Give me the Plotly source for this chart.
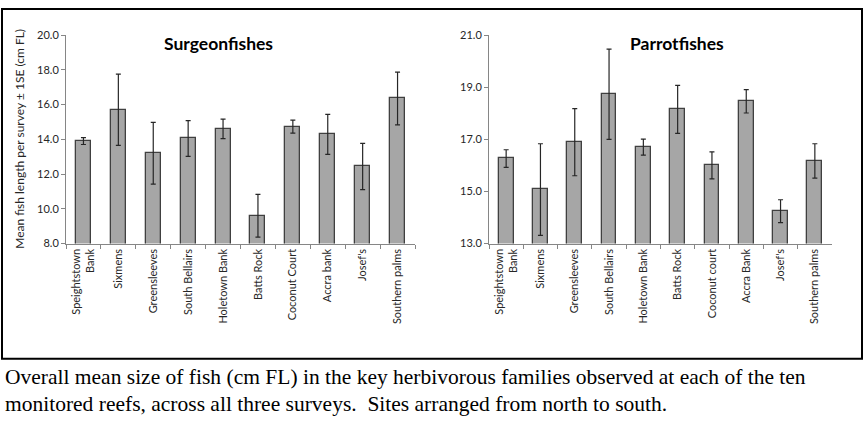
import plotly.graph_objects as go
from plotly.subplots import make_subplots

W, H = 864, 423

# sites, north to south (labels as written on each panel)
sites_surgeon = ["Speightstown<br>Bank", "Sixmens", "Greensleeves", "South Bellairs", "Holetown Bank",
                 "Batts Rock", "Coconut Court", "Accra bank", "Josef's", "Southern palms"]
sites_parrot = ["Speightstown<br>Bank", "Sixmens", "Greensleeves", "South Bellairs", "Holetown Bank",
                "Batts Rock", "Coconut court", "Accra Bank", "Josef's", "Southern palms"]

# mean fish length (cm FL) and 1 SE
surgeon_mean = [13.9, 15.7, 13.2, 14.05, 14.6, 9.6, 14.73, 14.28, 12.43, 16.35]
surgeon_se = [0.2, 2.05, 1.78, 1.03, 0.56, 1.23, 0.37, 1.15, 1.33, 1.52]
parrot_mean = [16.26, 15.07, 16.89, 18.73, 16.70, 18.15, 16.0, 18.46, 14.24, 16.17]
parrot_se = [0.34, 1.76, 1.29, 1.73, 0.31, 0.92, 0.52, 0.45, 0.44, 0.66]

FONT = "Lato"
TXT = "#262626"

def px_x(p):
    return p / W

def px_y(p):
    return 1 - p / H

fig = make_subplots(rows=1, cols=2)

for col, sites, mean, se in [(1, sites_surgeon, surgeon_mean, surgeon_se),
                             (2, sites_parrot, parrot_mean, parrot_se)]:
    fig.add_trace(go.Bar(
        x=sites, y=mean, width=0.43,
        marker=dict(color="#A6A6A6", line=dict(color="#404040", width=1.3)),
        error_y=dict(type="data", array=se, color=TXT, thickness=1.2, width=2.5),
        showlegend=False), row=1, col=col)

axis_common = dict(showline=True, linecolor="#868686", linewidth=1, showgrid=False,
                   zeroline=False, ticks="outside", ticklen=4, tickcolor="#868686",
                   tickfont=dict(family=FONT, size=11, color=TXT))

fig.update_xaxes(**axis_common, tickangle=-90, tickson="boundaries", range=[-0.5, 9.5])
fig.update_yaxes(**axis_common, tickformat=".1f", dtick=2)

fig.update_layout(
    width=W, height=H, margin=dict(l=0, r=0, t=0, b=0),
    paper_bgcolor="white", plot_bgcolor="white", bargap=0,
    xaxis=dict(domain=[px_x(66), px_x(415)]),
    xaxis2=dict(domain=[px_x(489), px_x(832)]),
    yaxis=dict(domain=[px_y(244), px_y(29)], range=[8, 20], tick0=8),
    yaxis2=dict(domain=[px_y(244), px_y(29)], range=[13, 21], tick0=13),
)

# panel titles
for txt, xc in [("<b>Surgeonfishes</b>", 218), ("<b>Parrotfishes</b>", 677)]:
    fig.add_annotation(text=txt, x=px_x(xc), y=px_y(38), xref="paper", yref="paper",
                       xanchor="center", yanchor="middle", showarrow=False,
                       font=dict(family=FONT, size=17.5, color="black"))

# y axis title
fig.add_annotation(text="Mean fish length per survey ± 1SE (cm FL)", textangle=-90,
                   x=px_x(20), y=px_y(136), xref="paper", yref="paper", showarrow=False,
                   xanchor="center", yanchor="middle",
                   font=dict(family=FONT, size=12, color=TXT))

# frame around the two charts
fig.add_shape(type="rect", xref="paper", yref="paper",
              x0=px_x(2), x1=px_x(862), y0=px_y(363), y1=px_y(2),
              line=dict(color="black", width=2))

# caption
cap1 = "Overall mean size of fish (cm FL) in the key herbivorous families observed at each of the ten"
cap2 = "monitored reefs, across all three surveys.  Sites arranged from north to south."
for txt, yc in [(cap1, 382), (cap2, 410)]:
    fig.add_annotation(text=txt, x=px_x(3), y=px_y(yc), xref="paper", yref="paper",
                       xanchor="left", yanchor="middle", showarrow=False,
                       font=dict(family="Liberation Serif", size=21.5, color="black"))

fig.write_html("out.html", config={"displayModeBar": False},
               post_script="document.body.style.margin='0px';")
